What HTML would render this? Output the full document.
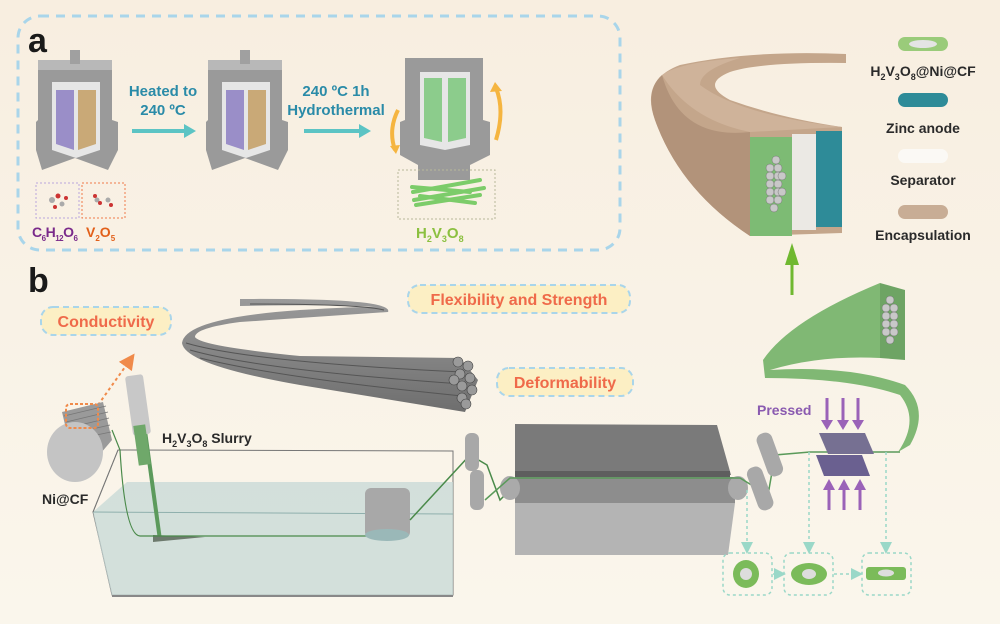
<!DOCTYPE html>
<html><head><meta charset="utf-8"><style>
html,body{margin:0;padding:0;background:#f9f2e6}
svg{display:block}
text{font-family:"Liberation Sans",Arial,sans-serif;font-weight:bold}
</style></head><body>
<svg width="1000" height="624" viewBox="0 0 1000 624" xmlns="http://www.w3.org/2000/svg">
<defs>
<linearGradient id="bg" x1="0" y1="0" x2="0" y2="1"><stop offset="0" stop-color="#f8eee0"/><stop offset="1" stop-color="#faf6ec"/></linearGradient>
<linearGradient id="bun" x1="0" y1="0" x2="0" y2="1"><stop offset="0" stop-color="#9a9a9a"/><stop offset="1" stop-color="#6e6e6e"/></linearGradient>
<marker id="ah" markerWidth="8" markerHeight="8" refX="4" refY="4" orient="auto"><path d="M0,0 L8,4 L0,8 z" fill="#9ad8c8"/></marker>
<marker id="ao" markerWidth="8" markerHeight="8" refX="4" refY="4" orient="auto"><path d="M0,0 L8,4 L0,8 z" fill="#f08a4a"/></marker>
</defs>
<rect width="1000" height="624" fill="url(#bg)"/>

<rect x="18" y="16" width="602" height="234" rx="22" fill="none" stroke="#a9d5ea" stroke-width="3" stroke-dasharray="9,7"/>
<text x="28" y="52" font-size="34" fill="#1a1a1a">a</text>

<g id="r1">
<path d="M38,62 L112,62 L112,120 L118,122 L118,150 L108,170 L75,158 L42,170 L36,150 L36,122 L38,120 Z" fill="#9a9a9a"/>
<rect x="38" y="60" width="74" height="10" fill="#b8b8b8"/>
<rect x="70" y="50" width="10" height="14" fill="#a0a0a0"/>
<path d="M52,82 L100,82 L100,150 L76,158 L52,150 Z" fill="#e6e6e6"/>
<path d="M56,90 L74,90 L74,150 L56,144 Z" fill="#9a8ec8"/>
<path d="M78,90 L96,90 L96,144 L78,150 Z" fill="#c9a977"/>
</g>
<use href="#r1" x="170" y="0"/>
<path d="M405,58 L483,58 L483,120 L490,122 L490,155 L470,165 L470,180 L418,180 L418,165 L400,155 L400,122 L405,120 Z" fill="#9a9a9a"/>
<path d="M420,72 L470,72 L470,145 L445,150 L420,145 Z" fill="#e6e6e6"/>
<path d="M424,78 L442,78 L442,142 L424,138 Z" fill="#8ccc8c"/>
<path d="M448,78 L466,78 L466,138 L448,142 Z" fill="#8ccc8c"/>
<path d="M398,110 Q388,130 395,150" stroke="#f5b540" stroke-width="4" fill="none"/>
<path d="M390,146 L396,154 L400,145 Z" fill="#f5b540"/>
<path d="M496,140 Q505,110 496,88" stroke="#f5b540" stroke-width="4" fill="none"/>
<path d="M490,92 L495,82 L502,91 Z" fill="#f5b540"/>

<path d="M132,131 L185,131" stroke="#5cc4c4" stroke-width="4"/><path d="M184,124 L196,131 L184,138 Z" fill="#5cc4c4"/>
<path d="M304,131 L360,131" stroke="#5cc4c4" stroke-width="4"/><path d="M359,124 L371,131 L359,138 Z" fill="#5cc4c4"/>
<text x="163" y="96" font-size="15" fill="#2a8ba8" text-anchor="middle">Heated to</text>
<text x="163" y="115" font-size="15" fill="#2a8ba8" text-anchor="middle">240 ºC</text>
<text x="336" y="96" font-size="15" fill="#2a8ba8" text-anchor="middle">240 ºC 1h</text>
<text x="336" y="115" font-size="15" fill="#2a8ba8" text-anchor="middle">Hydrothermal</text>

<rect x="36" y="183" width="43" height="35" fill="none" stroke="#b9a6dd" stroke-dasharray="2,2"/>
<rect x="82" y="183" width="43" height="35" fill="none" stroke="#ef7a4a" stroke-dasharray="2,2"/>
<circle cx="52" cy="200" r="3" fill="#aaa"/><circle cx="58" cy="196" r="2.5" fill="#c33"/><circle cx="62" cy="204" r="2.5" fill="#aaa"/><circle cx="55" cy="207" r="2" fill="#c33"/><circle cx="66" cy="198" r="2" fill="#c33"/>
<circle cx="97" cy="200" r="2.5" fill="#aaa"/><circle cx="100" cy="203" r="2" fill="#c33"/><circle cx="108" cy="200" r="2.5" fill="#aaa"/><circle cx="95" cy="196" r="2" fill="#c33"/><circle cx="111" cy="205" r="2" fill="#c33"/>
<text x="32" y="237" font-size="14" fill="#7a2a8a" letter-spacing="-0.5">C<tspan font-size="8" dy="4">6</tspan><tspan dy="-4">H</tspan><tspan font-size="8" dy="4">12</tspan><tspan dy="-4">O</tspan><tspan font-size="8" dy="4">6</tspan></text>
<text x="86" y="237" font-size="14" fill="#e2601a">V<tspan font-size="8" dy="4">2</tspan><tspan dy="-4">O</tspan><tspan font-size="8" dy="4">5</tspan></text>
<rect x="398" y="170" width="97" height="49" fill="none" stroke="#b8b89a" stroke-dasharray="2,2"/>
<g stroke="#7ccc6a" stroke-width="4" stroke-linecap="round"><line x1="413" y1="192" x2="480" y2="180"/><line x1="414" y1="200" x2="484" y2="188"/><line x1="416" y1="205" x2="480" y2="195"/><line x1="420" y1="196" x2="475" y2="203"/><line x1="412" y1="187" x2="470" y2="192"/></g>
<text x="416" y="238" font-size="15" fill="#8cc040">H<tspan font-size="9" dy="4">2</tspan><tspan dy="-4">V</tspan><tspan font-size="9" dy="4">3</tspan><tspan dy="-4">O</tspan><tspan font-size="9" dy="4">8</tspan></text>

<!-- battery -->
<path d="M750,236 Q680,190 655,120 Q640,80 680,65 Q750,50 846,54 L846,63 Q760,62 730,72 Q700,84 730,100 Q780,118 842,127 L842,233 Z" fill="#c4a68b"/>
<path d="M750,236 Q680,190 655,120 Q645,90 662,75 Q680,140 750,132 Z" fill="#b2937a"/>
<path d="M662,75 Q680,62 740,58 Q700,70 700,85 Q740,115 842,127 L750,132 Q690,120 662,75 Z" fill="#cfb39a"/>
<rect x="750" y="137" width="42" height="99" fill="#7dbb74"/>
<rect x="792" y="134" width="24" height="96" fill="#ebe9e4"/>
<rect x="816" y="131" width="26" height="96" fill="#2e8b98"/>
<g fill="#c8c8c8" stroke="#777" stroke-width=".5">
<circle cx="776" cy="160" r="4"/><circle cx="770" cy="168" r="4"/><circle cx="778" cy="168" r="4"/><circle cx="770" cy="176" r="4"/><circle cx="778" cy="176" r="4"/><circle cx="770" cy="184" r="4"/><circle cx="778" cy="184" r="4"/><circle cx="770" cy="192" r="4"/><circle cx="778" cy="192" r="4"/><circle cx="770" cy="200" r="4"/><circle cx="778" cy="200" r="4"/><circle cx="774" cy="208" r="4"/><circle cx="782" cy="176" r="4"/><circle cx="782" cy="192" r="4"/></g>
<path d="M792,295 L792,262" stroke="#70b830" stroke-width="3"/><path d="M785,265 L792,243 L799,265 Z" fill="#70b830"/>

<rect x="898" y="37" width="50" height="14" rx="7" fill="#9acb7a"/><ellipse cx="923" cy="44" rx="14" ry="4" fill="#e4e4e4"/>
<text x="923" y="76" font-size="14" fill="#2a2a2a" text-anchor="middle">H<tspan font-size="9" dy="4">2</tspan><tspan dy="-4">V</tspan><tspan font-size="9" dy="4">3</tspan><tspan dy="-4">O</tspan><tspan font-size="9" dy="4">8</tspan><tspan dy="-4">@Ni@CF</tspan></text>
<rect x="898" y="93" width="50" height="14" rx="7" fill="#2e8b98"/>
<text x="923" y="133" font-size="14" fill="#2a2a2a" text-anchor="middle">Zinc anode</text>
<rect x="898" y="149" width="50" height="14" rx="7" fill="#fbf9f5"/>
<text x="923" y="185" font-size="14" fill="#2a2a2a" text-anchor="middle">Separator</text>
<rect x="898" y="205" width="50" height="14" rx="7" fill="#c8ad95"/>
<text x="923" y="240" font-size="14" fill="#2a2a2a" text-anchor="middle">Encapsulation</text>

<!-- panel b -->
<text x="28" y="292" font-size="34" fill="#1a1a1a">b</text>
<rect x="41" y="307" width="130" height="28" rx="12" fill="#fcefc4" stroke="#a9d5ea" stroke-width="2" stroke-dasharray="6,4"/>
<text x="106" y="327" font-size="16" fill="#ef6a4a" text-anchor="middle">Conductivity</text>
<rect x="408" y="285" width="222" height="28" rx="12" fill="#fcefc4" stroke="#a9d5ea" stroke-width="2" stroke-dasharray="6,4"/>
<text x="519" y="305" font-size="16" fill="#ef6a4a" text-anchor="middle">Flexibility and Strength</text>
<rect x="497" y="368" width="136" height="28" rx="12" fill="#fcefc4" stroke="#a9d5ea" stroke-width="2" stroke-dasharray="6,4"/>
<text x="565" y="388" font-size="16" fill="#ef6a4a" text-anchor="middle">Deformability</text>

<!-- fiber bundle -->
<path d="M240,299 Q395,298 388,312 Q300,318 240,322 Q195,328 195,337 Q200,346 300,356 L460,358 L478,380 L465,412 L300,385 Q185,365 182,343 Q185,318 300,310 Q370,306 380,307 Q330,304 240,306 Z" fill="url(#bun)"/>
<g stroke="#555" stroke-width="1" fill="none"><path d="M186,343 Q250,362 462,372"/><path d="M190,350 Q260,370 462,384"/><path d="M200,358 Q280,378 462,396"/><path d="M250,304 Q360,304 384,310"/></g>
<g fill="#9a9a9a" stroke="#444" stroke-width=".6"><circle cx="458" cy="362" r="5"/><circle cx="468" cy="366" r="5"/><circle cx="460" cy="374" r="5"/><circle cx="470" cy="378" r="5"/><circle cx="462" cy="386" r="5"/><circle cx="472" cy="390" r="5"/><circle cx="462" cy="398" r="5"/><circle cx="454" cy="380" r="5"/><circle cx="466" cy="404" r="5"/></g>
<path d="M98,405 L130,360" stroke="#f08a4a" stroke-width="2" stroke-dasharray="3,3" marker-end="url(#ao)"/>

<!-- spool -->
<path d="M62,412 L103,402 L112,440 L78,480 Z" fill="#9a9a9a"/>
<g stroke="#777" stroke-width=".8"><line x1="64" y1="416" x2="106" y2="406"/><line x1="66" y1="422" x2="108" y2="412"/><line x1="68" y1="428" x2="109" y2="418"/><line x1="70" y1="434" x2="110" y2="425"/><line x1="72" y1="440" x2="111" y2="432"/></g>
<ellipse cx="75" cy="452" rx="28" ry="30" fill="#c4c4c4"/>
<rect x="66" y="404" width="32" height="24" rx="4" fill="none" stroke="#f08a4a" stroke-width="2" stroke-dasharray="3,2"/>
<text x="42" y="504" font-size="14" fill="#2a2a2a">Ni@CF</text>

<!-- tank -->
<path d="M118,450 L453,451 L453,595 L112,595 L93,512 Z" fill="none" stroke="#777" stroke-width="1"/>
<path d="M127,482 L453,482 L453,596 L112,596 L100,545 L93,512 Z" fill="#c5d8d5" opacity=".75"/>
<path d="M93,512 L453,514" stroke="#8fb0ad"/><path d="M93,512 L118,450" stroke="#777"/>
<path d="M112,596 L453,596" stroke="#888" stroke-width="2"/>
<path d="M138,380 L160,540" stroke="#5c9a5c" stroke-width="4"/>
<rect x="129" y="375" width="18" height="60" rx="3" fill="#c8c8c8" transform="rotate(-8 138 405)"/>
<rect x="136" y="425" width="12" height="40" fill="#6fa86a" transform="rotate(-8 142 445)"/>
<path d="M153,535 L205,537 L153,542 Z" fill="#6d7a6d"/>
<text x="162" y="443" font-size="14" fill="#2a2a2a">H<tspan font-size="9" dy="4">2</tspan><tspan dy="-4">V</tspan><tspan font-size="9" dy="4">3</tspan><tspan dy="-4">O</tspan><tspan font-size="9" dy="4">8</tspan><tspan dy="-4"> Slurry</tspan></text>
<path d="M112,430 L120,450 Q125,535 140,536 L380,536" stroke="#4a8a4a" stroke-width="1.2" fill="none"/>
<rect x="365" y="488" width="45" height="50" rx="6" fill="#a8a8a8"/><ellipse cx="387" cy="535" rx="22" ry="6" fill="#9ab8b8"/>
<path d="M410,520 L470,455 L487,465 L500,500 L515,485" stroke="#4a8a4a" stroke-width="1.5" fill="none"/>
<rect x="465" y="433" width="14" height="38" rx="6" fill="#a8a8a8"/><rect x="470" y="470" width="14" height="40" rx="6" fill="#a8a8a8"/>

<!-- machine -->
<path d="M515,424 L717,425 L731,475 L515,475 Z" fill="#7a7a7a"/>
<rect x="515" y="471" width="215" height="8" fill="#5e5e5e"/>
<rect x="515" y="477" width="220" height="26" fill="#8d8d8d"/>
<path d="M515,503 L735,503 L728,555 L515,555 Z" fill="#b4b4b4"/>
<ellipse cx="510" cy="488" rx="10" ry="12" fill="#aaa"/><ellipse cx="738" cy="488" rx="10" ry="12" fill="#aaa"/>
<path d="M485,500 L510,478 L740,478 L768,495 L775,455 L810,452 L900,452" stroke="#5a9a5a" stroke-width="1.5" fill="none"/>
<rect x="762" y="432" width="16" height="45" rx="7" fill="#a8a8a8" transform="rotate(-20 770 455)"/>
<rect x="752" y="466" width="16" height="45" rx="7" fill="#a8a8a8" transform="rotate(-20 760 488)"/>

<path d="M819,433 L865,433 L874,454 L828,454 Z" fill="#767092"/>
<path d="M816,455 L862,455 L870,476 L824,476 Z" fill="#6a6090"/>
<g fill="#9a62b8" stroke="#9a62b8" stroke-width="3">
<line x1="827" y1="398" x2="827" y2="422"/><line x1="843" y1="398" x2="843" y2="422"/><line x1="858" y1="398" x2="858" y2="422"/>
<line x1="829" y1="488" x2="829" y2="510"/><line x1="844" y1="488" x2="844" y2="510"/><line x1="860" y1="488" x2="860" y2="510"/></g>
<g fill="#9a62b8"><path d="M821,420 L833,420 L827,430 Z"/><path d="M837,420 L849,420 L843,430 Z"/><path d="M852,420 L864,420 L858,430 Z"/>
<path d="M823,490 L835,490 L829,479 Z"/><path d="M838,490 L850,490 L844,479 Z"/><path d="M854,490 L866,490 L860,479 Z"/></g>
<text x="757" y="415" font-size="14" fill="#8a5ab0">Pressed</text>

<path d="M763,360 Q790,320 880,283 L880,358 Q820,355 770,370 Q850,365 905,385 Q930,410 910,445 L898,452 Q920,420 900,395 Q850,378 765,378 Z" fill="#80b874"/>
<path d="M880,283 L905,290 L905,360 L880,358 Z" fill="#6ea464"/>
<g fill="#c8c8c8" stroke="#777" stroke-width=".5"><circle cx="890" cy="300" r="4"/><circle cx="886" cy="308" r="4"/><circle cx="894" cy="308" r="4"/><circle cx="886" cy="316" r="4"/><circle cx="894" cy="316" r="4"/><circle cx="886" cy="324" r="4"/><circle cx="894" cy="324" r="4"/><circle cx="886" cy="332" r="4"/><circle cx="894" cy="332" r="4"/><circle cx="890" cy="340" r="4"/></g>

<g fill="none" stroke="#9ad8c8" stroke-width="1.5" stroke-dasharray="3,3">
<rect x="723" y="553" width="49" height="42" rx="7"/><rect x="784" y="553" width="49" height="42" rx="7"/><rect x="862" y="553" width="49" height="42" rx="7"/>
<line x1="747" y1="490" x2="747" y2="548" marker-end="url(#ah)"/><line x1="809" y1="452" x2="809" y2="548" marker-end="url(#ah)"/><line x1="886" y1="452" x2="886" y2="548" marker-end="url(#ah)"/>
<line x1="773" y1="574" x2="780" y2="574" marker-end="url(#ah)"/><line x1="834" y1="574" x2="857" y2="574" marker-end="url(#ah)"/>
</g>
<ellipse cx="746" cy="574" rx="13" ry="14" fill="#7bbb5a"/><ellipse cx="746" cy="574" rx="6" ry="6" fill="#ddd"/>
<ellipse cx="809" cy="574" rx="18" ry="11" fill="#7bbb5a"/><ellipse cx="809" cy="574" rx="7" ry="5" fill="#ddd"/>
<rect x="866" y="567" width="40" height="13" rx="3" fill="#7bbb5a"/><ellipse cx="886" cy="573" rx="8" ry="3.5" fill="#ddd"/>
</svg>
</body></html>
